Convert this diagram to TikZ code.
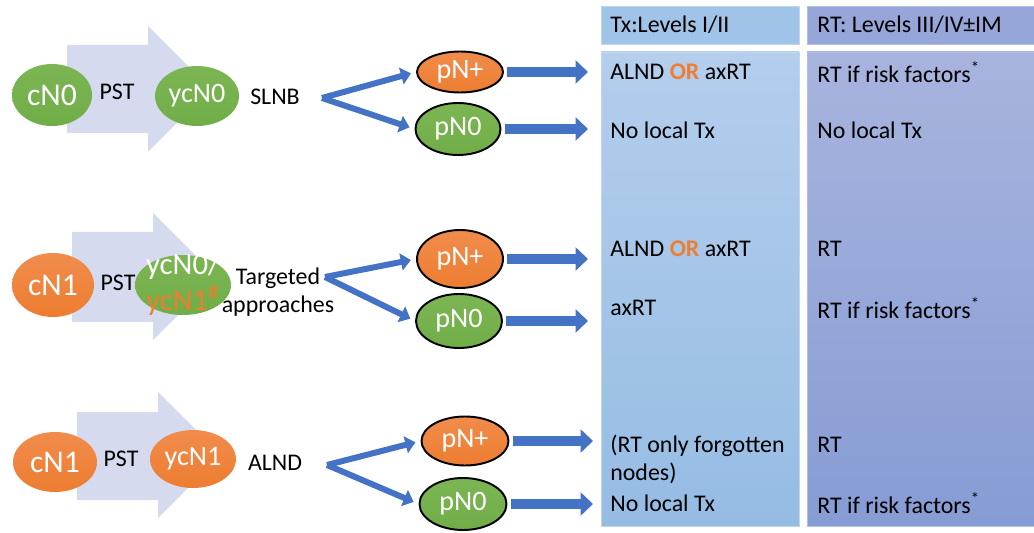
\documentclass[tikz,border=0pt]{standalone}
\usepackage{fontspec}
\setmainfont{Carlito}
\usepackage{xcolor}
\usepackage{tikz}
\usetikzlibrary{shapes,arrows.meta,positioning}

\definecolor{nodegreen}{RGB}{112,173,71}
\definecolor{nodegreentop}{RGB}{124,182,84}
\definecolor{nodeorange}{RGB}{237,125,49}
\definecolor{nodeorangetop}{RGB}{241,140,76}
\definecolor{arrowblue}{RGB}{68,114,196}
\definecolor{pstlav}{RGB}{214,218,238}
\definecolor{txhead}{RGB}{160,196,232}
\definecolor{txtop}{RGB}{180,206,236}
\definecolor{txbot}{RGB}{150,188,228}
\definecolor{txedge}{RGB}{190,214,240}
\definecolor{rthead}{RGB}{150,166,216}
\definecolor{rttop}{RGB}{168,180,222}
\definecolor{rtbot}{RGB}{134,156,212}
\definecolor{rtedge}{RGB}{180,190,228}

\tikzset{
    cgreen/.style={ellipse, inner sep=0pt, text=white, top color=nodegreentop,
        bottom color=nodegreen, font=\fontsize{16}{17}\selectfont},
    corange/.style={ellipse, inner sep=0pt, text=white, top color=nodeorangetop,
        bottom color=nodeorange, font=\fontsize{16}{17}\selectfont},
    cbig/.style={font=\fontsize{18}{19}\selectfont},
    pgreen/.style={cgreen, draw=black, line width=1.1pt},
    porange/.style={corange, draw=black, line width=1.1pt},
    label/.style={inner sep=0pt, font=\fontsize{13.6}{16}\selectfont},
    coltext/.style={label, anchor=west},
    forkarrow/.style={draw=arrowblue, line width=0.12cm,
        -{Triangle[length=0.2cm,width=0.34cm]}, shorten >=3pt},
    outarrow/.style={draw=arrowblue, line width=0.19cm,
        -{Triangle[length=0.25cm,width=0.46cm]}, shorten <=2pt}
}

\begin{document}
\begin{tikzpicture}[x=0.02cm, y=-0.02cm]
    \useasboundingbox (0,0) rectangle (1034,533);

    % columns
    \fill[txhead] (601,6) rectangle (799,44);
    \draw[txedge, line width=0.5pt] (601,6) rectangle (799,44);
    \shade[top color=txtop, bottom color=txbot] (601,52) rectangle (799,526);
    \draw[txedge, line width=0.5pt] (601,52) rectangle (799,526);
    \fill[rthead] (807,6) rectangle (1034,44);
    \draw[rtedge, line width=0.5pt] (807,6) rectangle (1034,44);
    \shade[top color=rttop, bottom color=rtbot] (807,52) rectangle (1034,526);
    \draw[rtedge, line width=0.5pt] (807,52) rectangle (1034,526);

    \node[coltext] (txhdr) at (610,25) {Tx:Levels I/II};
    \node[coltext] (rthdr) at (817,25) {RT: Levels III/IV±IM};

    % PST block arrows
    \fill[pstlav] (67,45) -- (148,45) -- (148,26) -- (211,89) -- (148,152)
        -- (148,133) -- (67,133) -- cycle;
    \fill[pstlav] (72,232) -- (153,232) -- (153,213) -- (217,277) -- (153,340)
        -- (153,322) -- (72,322) -- cycle;
    \fill[pstlav] (77,412) -- (158,412) -- (158,392) -- (221,455) -- (158,518)
        -- (158,500) -- (77,500) -- cycle;

    % row 1
    \node[cgreen, cbig, minimum width=1.6cm, minimum height=1.24cm] (cn1) at (52,95) {cN0};
    \node[label] (pst1) at (117,92) {PST};
    \node[cgreen, minimum width=1.68cm, minimum height=1.2cm] (ycn1) at (197,96) {ycN0};
    \node[label] (slnb) at (275,97) {SLNB};
    \coordinate (fork1) at (322,98);
    \node[porange, minimum width=1.72cm, minimum height=0.82cm] (pp1) at (460,72) {pN+};
    \node[pgreen, minimum width=1.7cm, minimum height=1.04cm] (pn1) at (458,129) {pN0};
    \draw[forkarrow] (fork1) -- (pp1.west);
    \draw[forkarrow] (fork1) -- (pn1.west);
    \coordinate (colx) at (588,0);
    \draw[outarrow] (pp1.east) -- (pp1.east -| colx);
    \draw[outarrow] (pn1.east) -- (pn1.east -| colx);
    \node[coltext] (tx1a) at (610,72) {ALND \textbf{\color{nodeorange}OR} axRT};
    \node[coltext] (tx1b) at (610,130) {No local Tx};
    \node[coltext] (rt1a) at (817,72) {RT if risk factors\textsuperscript{*}};
    \node[coltext] (rt1b) at (817,130) {No local Tx};

    % row 2
    \node[corange, cbig, minimum width=1.64cm, minimum height=1.28cm] (cn2) at (53,285) {cN1};
    \node[label] (pst2) at (118,283) {PST};
    \node[cgreen, minimum width=1.92cm, minimum height=1.2cm,
        font=\fontsize{17.5}{18}\selectfont] (ycn2) at (183,285)
        {\smash{\makebox[0pt]{\raisebox{-5pt}{\begin{tabular}{@{}c@{}}ycN0/\\
        \color{nodeorange}ycN1\textsuperscript{\#}\end{tabular}}}}};
    \node[label, align=center] (targ) at (278,292) {Targeted\\approaches};
    \coordinate (fork2) at (325,277);
    \node[porange, minimum width=1.72cm, minimum height=1.16cm] (pp2) at (460,259) {pN+};
    \node[pgreen, minimum width=1.72cm, minimum height=1.08cm] (pn2) at (459,321) {pN0};
    \draw[forkarrow] (fork2) -- (pp2.west);
    \draw[forkarrow] (fork2) -- (pn2.west);
    \draw[outarrow] (pp2.east) -- (pp2.east -| colx);
    \draw[outarrow] (pn2.east) -- (pn2.east -| colx);
    \node[coltext] (tx2a) at (610,249) {ALND \textbf{\color{nodeorange}OR} axRT};
    \node[coltext] (tx2b) at (610,308) {axRT};
    \node[coltext] (rt2a) at (817,249) {RT};
    \node[coltext] (rt2b) at (817,308) {RT if risk factors\textsuperscript{*}};

    % row 3
    \node[corange, cbig, minimum width=1.68cm, minimum height=1.2cm] (cn3) at (55,462) {cN1};
    \node[label] (pst3) at (121,459) {PST};
    \node[corange, minimum width=1.72cm, minimum height=1.16cm] (ycn3) at (193,459) {ycN1};
    \node[label] (alnd) at (275,463) {ALND};
    \coordinate (fork3) at (327,465);
    \node[porange, minimum width=1.74cm, minimum height=0.98cm] (pp3) at (465,441) {pN+};
    \node[pgreen, minimum width=1.74cm, minimum height=1.04cm] (pn3) at (463,504) {pN0};
    \draw[forkarrow] (fork3) -- (pp3.west);
    \draw[forkarrow] (fork3) -- (pn3.west);
    \coordinate (colx3) at (593,0);
    \draw[outarrow] (pp3.east) -- (pp3.east -| colx3);
    \draw[outarrow] (pn3.east) -- (pn3.east -| colx3);
    \node[coltext, align=left] (tx3a) at (610,459) {(RT only forgotten\\nodes)};
    \node[coltext] (tx3b) at (610,503) {No local Tx};
    \node[coltext] (rt3a) at (817,445) {RT};
    \node[coltext] (rt3b) at (817,503) {RT if risk factors\textsuperscript{*}};
\end{tikzpicture}
\end{document}
